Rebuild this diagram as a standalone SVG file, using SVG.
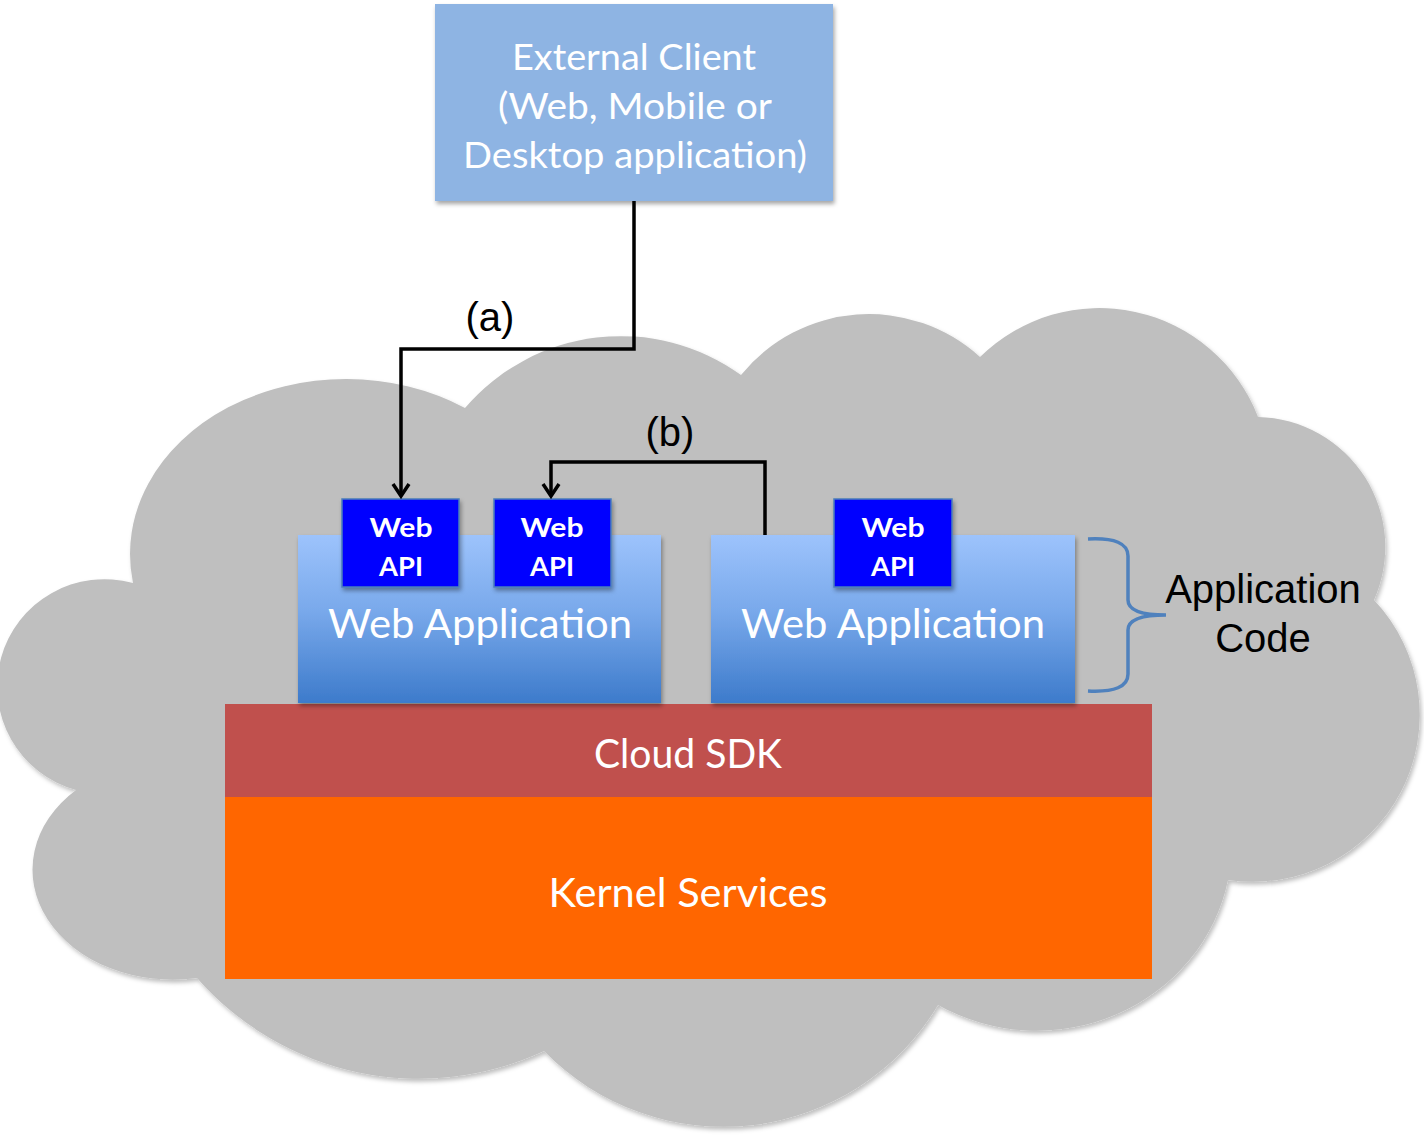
<svg xmlns="http://www.w3.org/2000/svg" width="1424" height="1136" viewBox="0 0 1424 1136">
  <defs>
    <style>
      .calibri { font-family: Lato, "Open Sans", "Liberation Sans", sans-serif; fill: #ffffff; text-anchor: middle; }
      .arial { font-family: "Liberation Sans", Arial, sans-serif; fill: #000000; text-anchor: middle; font-size: 40px; }
      .api { font-family: Lato, "Open Sans", "Liberation Sans", sans-serif; font-weight: bold; fill: #ffffff; text-anchor: middle; font-size: 27px; }
      .apibox { fill: #0000ff; stroke: #4a7ebb; stroke-width: 1.5; }
      .conn { fill: none; stroke: #000000; stroke-width: 3.5; stroke-linejoin: miter; }
    </style>
    <linearGradient id="appGrad" x1="0" y1="0" x2="0" y2="1">
      <stop offset="0" stop-color="#9dc3fc"/>
      <stop offset="0.45" stop-color="#79a9eb"/>
      <stop offset="1" stop-color="#3d7bcb"/>
    </linearGradient>
    <filter id="shadow" x="-10%" y="-10%" width="120%" height="125%">
      <feDropShadow dx="1.5" dy="3" stdDeviation="2" flood-color="#000000" flood-opacity="0.35"/>
    </filter>
    <filter id="cloudShadow" x="-5%" y="-5%" width="110%" height="110%">
      <feDropShadow dx="2" dy="3" stdDeviation="2" flood-color="#000000" flood-opacity="0.25"/>
    </filter>
    <marker id="openArrow" markerUnits="userSpaceOnUse" viewBox="-16 -12 20 24" refX="0" refY="0" markerWidth="20" markerHeight="24" orient="auto">
      <path d="M-12,-8 L0,0 L-12,8" fill="none" stroke="#000000" stroke-width="3.5"/>
    </marker>
  </defs>

  <rect x="0" y="0" width="1424" height="1136" fill="#ffffff"/>

  <g id="cloud">
    <path filter="url(#cloudShadow)" fill="#bfbfbf" d="M133,583 A216,175 0 0 1 465,408 A205,205 0 0 1 741,375 A165,165 0 0 1 980,357 A170,170 0 0 1 1258,417 A130,130 0 0 1 1374,600 A167,167 0 0 1 1228,880 A195,187 0 0 1 938,1005 A250,250 0 0 1 544,1051 A295,295 0 0 1 197,978 A140,110 0 0 1 76,790 A107,107 0 0 1 133,583 Z"/>
  </g>

  <g id="external-client">
    <rect x="435" y="4" width="398" height="197" fill="#8eb4e3" filter="url(#shadow)"/>
    <text class="calibri" x="634" y="70" font-size="36" textLength="244" lengthAdjust="spacingAndGlyphs">External Client</text>
    <text class="calibri" x="635" y="119" font-size="36" textLength="274" lengthAdjust="spacingAndGlyphs">(Web, Mobile or</text>
    <text class="calibri" x="635" y="168" font-size="36" textLength="344" lengthAdjust="spacingAndGlyphs">Desktop application)</text>
  </g>

  <g id="kernel-services">
    <rect x="225" y="797" width="927" height="182" fill="#ff6600"/>
    <text class="calibri" x="688" y="907" font-size="40" textLength="279" lengthAdjust="spacingAndGlyphs">Kernel Services</text>
  </g>

  <g id="cloud-sdk">
    <rect x="225" y="704" width="927" height="93" fill="#c0504d"/>
    <text class="calibri" x="688" y="768" font-size="40" textLength="188" lengthAdjust="spacingAndGlyphs">Cloud SDK</text>
  </g>

  <g id="web-app-1">
    <rect x="298" y="535" width="363" height="168" fill="url(#appGrad)" filter="url(#shadow)"/>
    <text class="calibri" x="480" y="638" font-size="40" textLength="304" lengthAdjust="spacingAndGlyphs">Web Application</text>
  </g>

  <g id="web-app-2">
    <rect x="711" y="535" width="364" height="168" fill="url(#appGrad)" filter="url(#shadow)"/>
    <text class="calibri" x="893" y="638" font-size="40" textLength="304" lengthAdjust="spacingAndGlyphs">Web Application</text>
  </g>

  <g id="web-api-1">
    <rect class="apibox" x="342" y="499" width="117" height="88" filter="url(#shadow)"/>
    <text class="api" x="401" y="537" textLength="63" lengthAdjust="spacingAndGlyphs">Web</text>
    <text class="api" x="401" y="576" textLength="44" lengthAdjust="spacingAndGlyphs">API</text>
  </g>

  <g id="web-api-2">
    <rect class="apibox" x="494" y="499" width="117" height="88" filter="url(#shadow)"/>
    <text class="api" x="552" y="537" textLength="63" lengthAdjust="spacingAndGlyphs">Web</text>
    <text class="api" x="552" y="576" textLength="44" lengthAdjust="spacingAndGlyphs">API</text>
  </g>

  <g id="web-api-3">
    <rect class="apibox" x="834" y="499" width="118" height="88" filter="url(#shadow)"/>
    <text class="api" x="893" y="537" textLength="63" lengthAdjust="spacingAndGlyphs">Web</text>
    <text class="api" x="893" y="576" textLength="44" lengthAdjust="spacingAndGlyphs">API</text>
  </g>

  <g id="application-code">
    <path d="M1088,539 Q1128,537 1128,556 L1128,600 Q1128,615 1166,615 Q1128,615 1128,630 L1128,674 Q1128,693 1088,691" fill="none" stroke="#4f81bd" stroke-width="3.5"/>
    <text class="arial" x="1263" y="603">Application</text>
    <text class="arial" x="1263" y="652">Code</text>
  </g>

  <g id="connectors">
    <path class="conn" d="M634,201 V349 H401 V496" marker-end="url(#openArrow)"/>
    <path class="conn" d="M765,535 V462 H551 V496" marker-end="url(#openArrow)"/>
    <text class="arial" x="490" y="331">(a)</text>
    <text class="arial" x="670" y="446">(b)</text>
  </g>
</svg>
